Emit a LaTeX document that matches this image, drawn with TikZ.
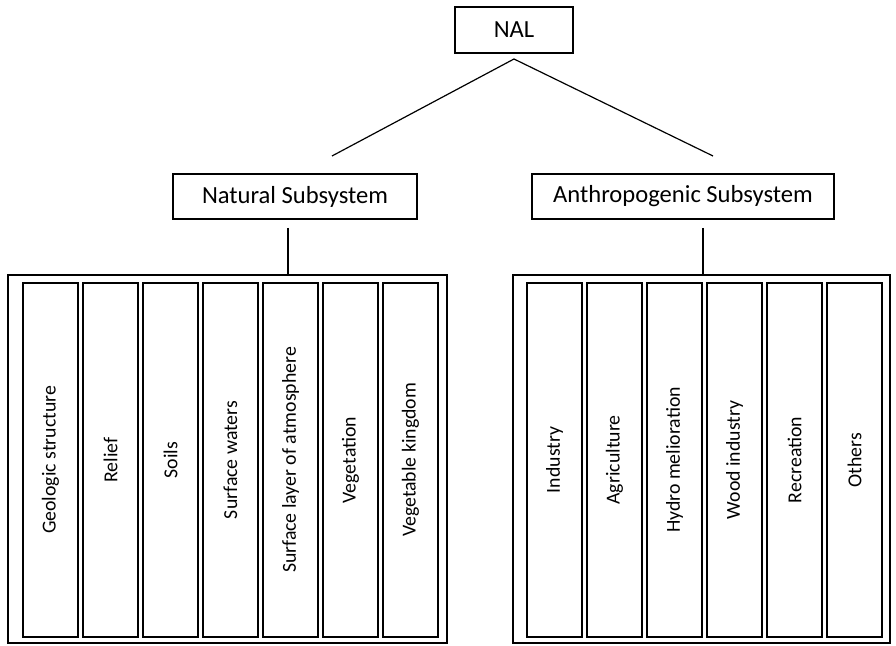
\documentclass[tikz,border=0pt]{standalone}
\usepackage{fontspec}
\setmainfont{Carlito}
\usetikzlibrary{positioning}

\begin{document}
\begin{tikzpicture}[x=0.5pt,y=-0.5pt,
    box/.style={draw,line width=0.6pt,inner sep=0pt,font=\fontsize{12.3}{14}\selectfont},
    panel/.style={draw,line width=0.6pt,minimum height=184pt,inner sep=0pt},
    column/.style={draw,line width=0.6pt,rotate=90,minimum width=177pt,minimum height=27.5pt,inner sep=0pt,font=\fontsize{9.9}{11}\selectfont},
    link/.style={line width=0.6pt}]
  \useasboundingbox (0,0) rectangle (896,646);

  % top level
  \node[box,minimum width=59pt,minimum height=23pt] (nal) at (514,30) {NAL};
  \node[box,minimum width=122pt,minimum height=22.5pt] (natural) at (295,196.5) {Natural Subsystem};
  \node[box,minimum width=151pt,minimum height=22.5pt] (anthro) at (683,196.5) {Anthropogenic Subsystem};

  \coordinate (apex) at (514,59);
  \coordinate (natjoin) at (332,156);
  \coordinate (antjoin) at (713,156);
  \draw[link] (natjoin) -- (apex) -- (antjoin);

  % component panels
  \node[panel,minimum width=219.5pt] (natpanel) at (227.5,459) {};
  \node[panel,minimum width=188.5pt] (antpanel) at (701.5,459) {};

  \coordinate (natdown) at (288,228);
  \coordinate (antdown) at (703,228);
  \draw[link] (natdown) -- (natdown |- natpanel.north);
  \draw[link] (antdown) -- (antdown |- antpanel.north);

  \foreach \name [count=\i from 0] in {Geologic structure,Relief,Soils,Surface waters,Surface layer of atmosphere,Vegetation,Vegetable kingdom}
    \node[column] (nat\i) at (50.5+60*\i,460) {\name};

  \foreach \name [count=\i from 0] in {Industry,Agriculture,Hydro melioration,Wood industry,Recreation,Others}
    \node[column] (ant\i) at (554.5+60*\i,460) {\name};
\end{tikzpicture}
\end{document}
